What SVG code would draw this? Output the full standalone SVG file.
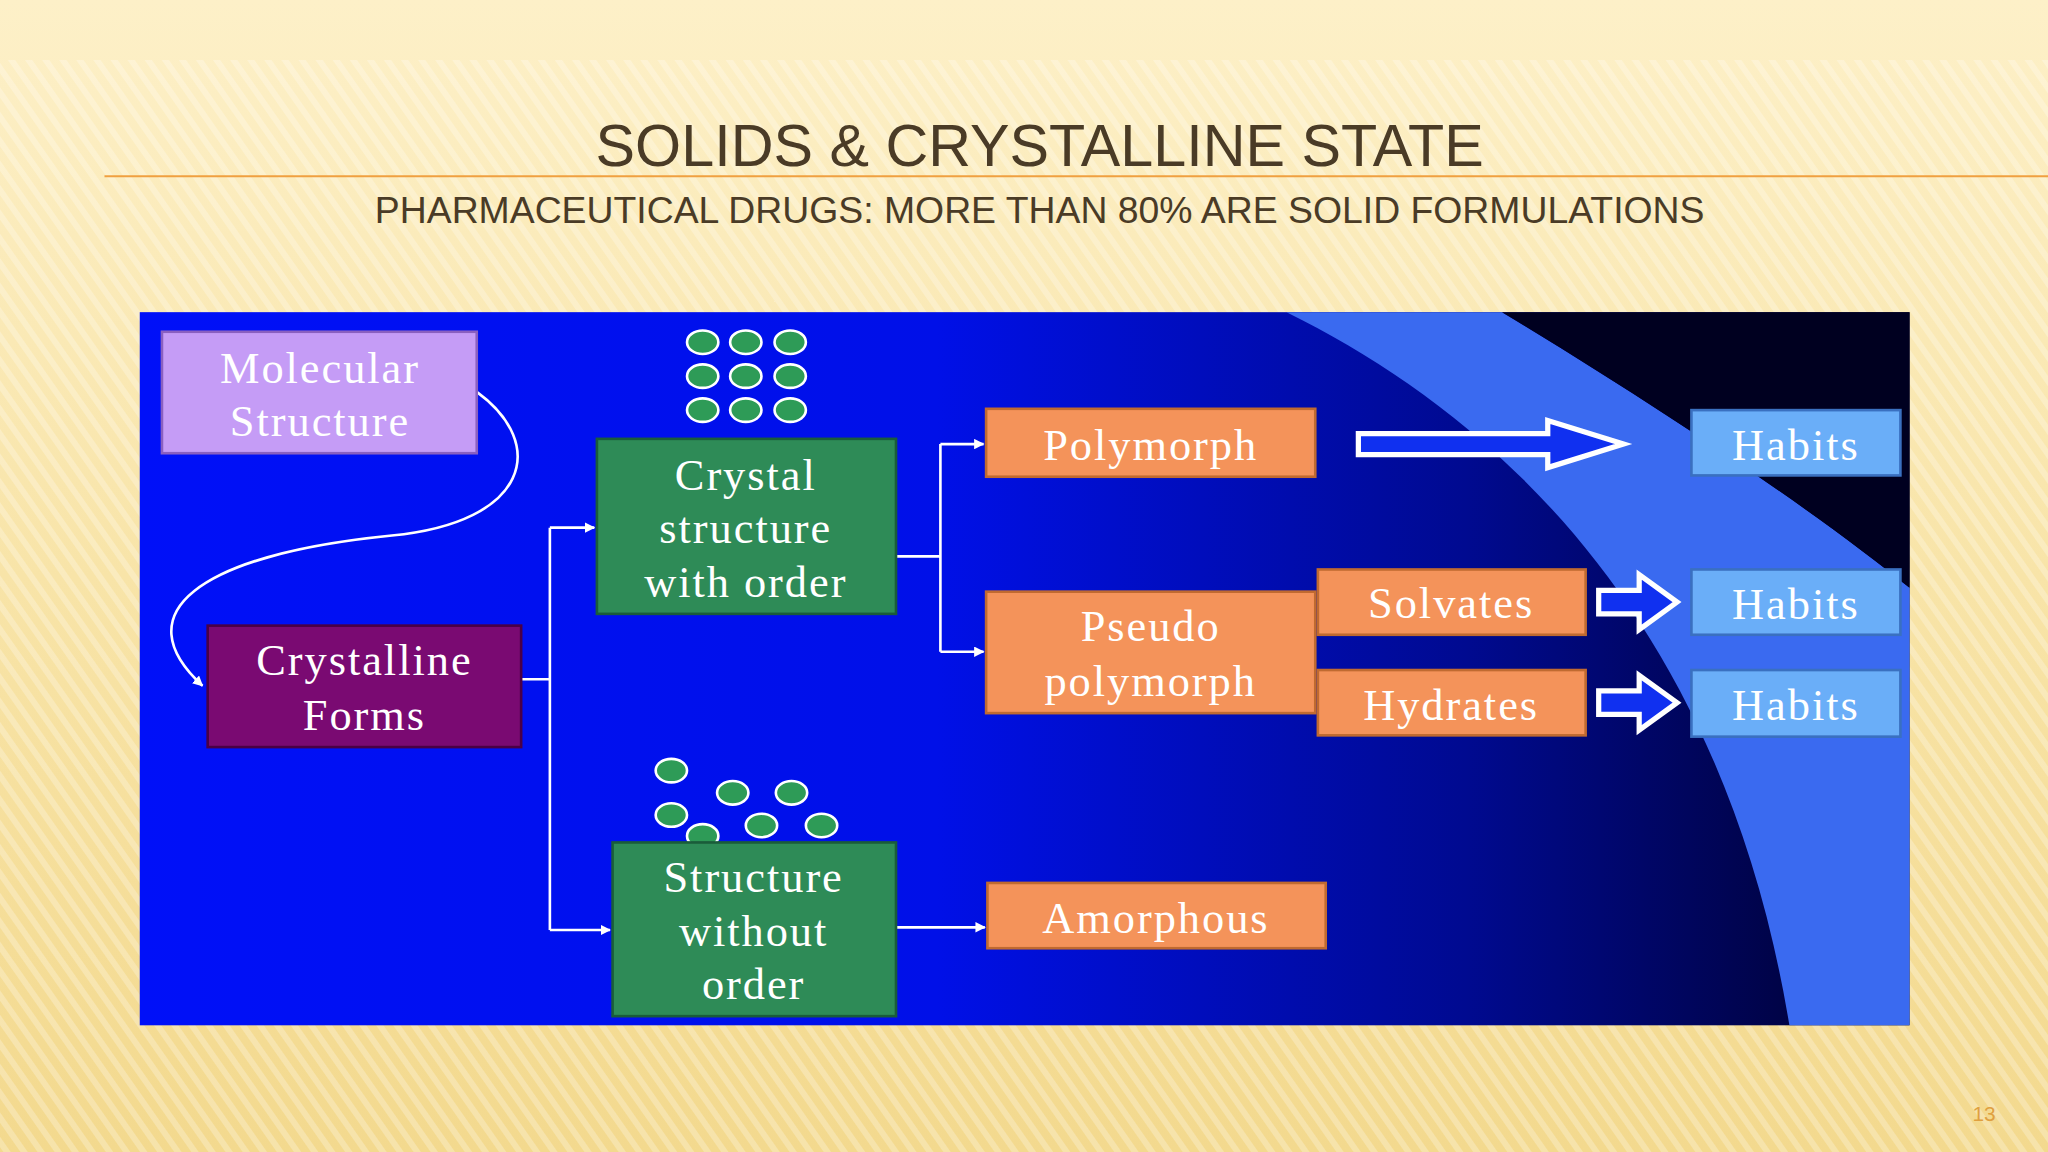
<svg xmlns="http://www.w3.org/2000/svg" width="2048" height="1152" viewBox="0 0 2048 1152">
<defs>
<linearGradient id="bg" x1="0" y1="0" x2="0" y2="1"><stop offset="0" stop-color="#fdf0c8"/><stop offset="0.5" stop-color="#f8e4a8"/><stop offset="1" stop-color="#f3d98e"/></linearGradient>
<pattern id="st" width="14" height="14" patternUnits="userSpaceOnUse" patternTransform="rotate(-35)"><rect width="6" height="14" fill="#ffffff" opacity="0.25"/></pattern>
<linearGradient id="pn" x1="0" y1="0" x2="1" y2="0"><stop offset="0" stop-color="#0010f8"/><stop offset="0.45" stop-color="#0010e8"/><stop offset="0.75" stop-color="#000a90"/><stop offset="1" stop-color="#00002a"/></linearGradient>
<marker id="ah" viewBox="0 0 10 10" refX="9" refY="5" markerWidth="4" markerHeight="4" orient="auto"><path d="M0,0L10,5L0,10z" fill="#fff"/></marker>
<style>
.t{font-family:"Liberation Serif",serif;font-size:34px;text-anchor:middle;fill:#fff;letter-spacing:1.5px}
.c{fill:none;stroke:#fff;stroke-width:2}
.g{fill:#2e8b57;stroke:#1a5c3a;stroke-width:2}
.o{fill:#f4935a;stroke:#c06a30;stroke-width:2}
.h{fill:#6aaef8;stroke:#3a70c0;stroke-width:2}
.d{fill:#2e9b57;stroke:#fff;stroke-width:2}
.ha{fill:#1030f0;stroke:#fff;stroke-width:4}
</style>
</defs>
<rect width="2048" height="1152" fill="url(#bg)"/>
<rect y="60" width="2048" height="1092" fill="url(#st)"/>
<g transform="scale(1.30612)">
<line x1="80" y1="135" x2="1568" y2="135" stroke="#f0a040" stroke-width="1.5"/>
<text x="796" y="127" font-family="Liberation Sans, sans-serif" font-size="46" fill="#4a3b26" text-anchor="middle" textLength="680" lengthAdjust="spacingAndGlyphs">SOLIDS &amp; CRYSTALLINE STATE</text>
<text x="796" y="171" font-family="Liberation Sans, sans-serif" font-size="28" fill="#4a3b26" text-anchor="middle" textLength="1018" lengthAdjust="spacingAndGlyphs">PHARMACEUTICAL DRUGS: MORE THAN 80% ARE SOLID FORMULATIONS</text>
<text x="1519" y="858" font-family="Liberation Sans, sans-serif" font-size="16" fill="#e0a040" text-anchor="middle">13</text>
<rect x="107" y="239" width="1355" height="546" fill="url(#pn)"/>
<path d="M985,239 C1150,320 1320,480 1370,785 L1462,785 L1462,450 C1400,400 1300,330 1150,239 Z" fill="#3a6af0"/>
<path d="M1150,239 C1300,330 1400,400 1462,450 L1462,239 Z" fill="#000020"/>
<g id="connectors">
<path class="c" d="M365,300 C420,340 405,400 300,410 C150,425 95,470 155,525" marker-end="url(#ah)"/>
<path class="c" d="M399,520 H421 M421,404 V712"/>
<path class="c" d="M421,404 H455" marker-end="url(#ah)"/>
<path class="c" d="M421,712 H467" marker-end="url(#ah)"/>
<path class="c" d="M686,426 H720 M720,340 V499"/>
<path class="c" d="M720,340 H753" marker-end="url(#ah)"/>
<path class="c" d="M720,499 H753" marker-end="url(#ah)"/>
<path class="c" d="M686,710 H754" marker-end="url(#ah)"/>
<path class="ha" d="M1040,332 H1185 V322 L1243,340 L1185,358 V348 H1040 Z"/>
<path class="ha" d="M1224,452 H1255 V440 L1284,461 L1255,482 V470 H1224 Z"/>
<path class="ha" d="M1224,529 H1255 V517 L1284,538 L1255,559 V547 H1224 Z"/>
</g>
<g id="dots">
<ellipse class="d" cx="538" cy="262" rx="12" ry="9"/><ellipse class="d" cx="571" cy="262" rx="12" ry="9"/><ellipse class="d" cx="605" cy="262" rx="12" ry="9"/>
<ellipse class="d" cx="538" cy="288" rx="12" ry="9"/><ellipse class="d" cx="571" cy="288" rx="12" ry="9"/><ellipse class="d" cx="605" cy="288" rx="12" ry="9"/>
<ellipse class="d" cx="538" cy="314" rx="12" ry="9"/><ellipse class="d" cx="571" cy="314" rx="12" ry="9"/><ellipse class="d" cx="605" cy="314" rx="12" ry="9"/>
<ellipse class="d" cx="514" cy="590" rx="12" ry="9"/><ellipse class="d" cx="561" cy="607" rx="12" ry="9"/><ellipse class="d" cx="606" cy="607" rx="12" ry="9"/>
<ellipse class="d" cx="514" cy="624" rx="12" ry="9"/><ellipse class="d" cx="538" cy="640" rx="12" ry="9"/><ellipse class="d" cx="583" cy="632" rx="12" ry="9"/><ellipse class="d" cx="629" cy="632" rx="12" ry="9"/>
</g>
<g id="molecular"><rect x="124" y="254" width="241" height="93" fill="#c59cf6" stroke="#8a60c0" stroke-width="2"/><text class="t" x="245" y="293" fill="#f2e6ff">Molecular</text><text class="t" x="245" y="334">Structure</text></g>
<g id="crystalline"><rect x="159" y="479" width="240" height="93" fill="#7a0a72" stroke="#4a0045" stroke-width="2"/><text class="t" x="279" y="517">Crystalline</text><text class="t" x="279" y="559">Forms</text></g>
<g id="crystal"><rect class="g" x="457" y="336" width="229" height="134"/><text class="t" x="571" y="375">Crystal</text><text class="t" x="571" y="416">structure</text><text class="t" x="571" y="457">with order</text></g>
<g id="noorder"><rect class="g" x="469" y="645" width="217" height="133"/><text class="t" x="577" y="683">Structure</text><text class="t" x="577" y="724">without</text><text class="t" x="577" y="765">order</text></g>
<g id="polymorph"><rect class="o" x="755" y="313" width="252" height="52"/><text class="t" x="881" y="352">Polymorph</text></g>
<g id="pseudo"><rect class="o" x="755" y="453" width="252" height="93"/><text class="t" x="881" y="491">Pseudo</text><text class="t" x="881" y="533">polymorph</text></g>
<g id="solvates"><rect class="o" x="1009" y="436" width="205" height="50"/><text class="t" x="1111" y="473">Solvates</text></g>
<g id="hydrates"><rect class="o" x="1009" y="513" width="205" height="50"/><text class="t" x="1111" y="551">Hydrates</text></g>
<g id="amorphous"><rect class="o" x="756" y="676" width="259" height="50"/><text class="t" x="885" y="714">Amorphous</text></g>
<g id="habits1"><rect class="h" x="1295" y="314" width="160" height="50"/><text class="t" x="1375" y="352">Habits</text></g>
<g id="habits2"><rect class="h" x="1295" y="436" width="160" height="50"/><text class="t" x="1375" y="474">Habits</text></g>
<g id="habits3"><rect class="h" x="1295" y="513" width="160" height="51"/><text class="t" x="1375" y="551">Habits</text></g>
</g>
</svg>
